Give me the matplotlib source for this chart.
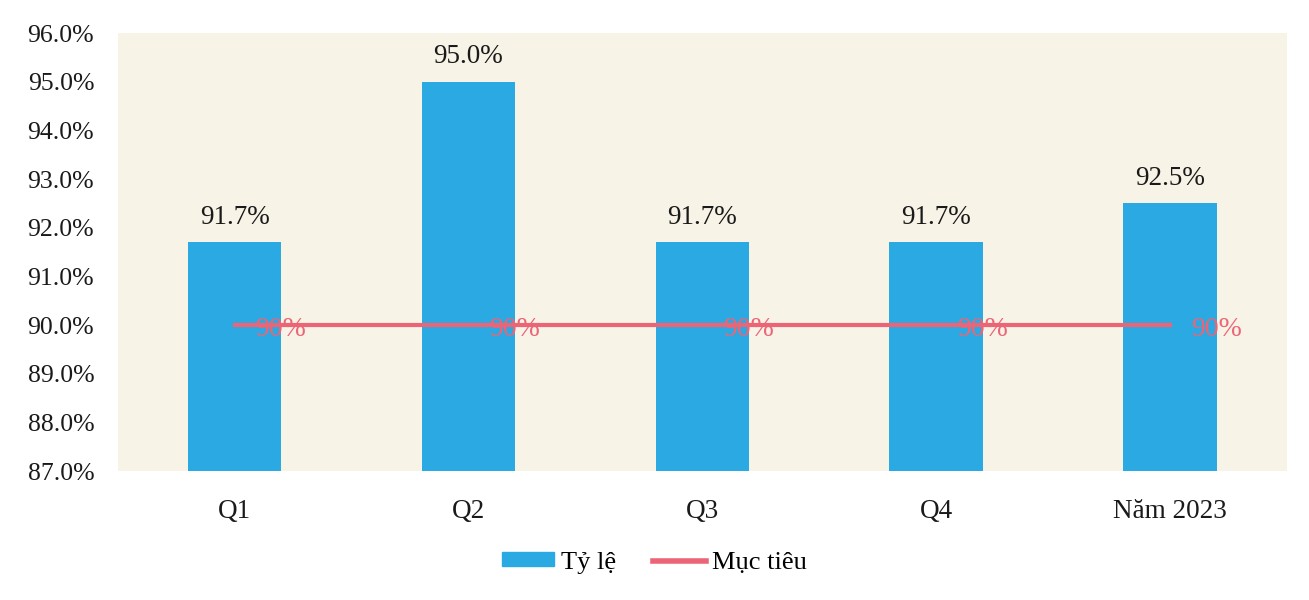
import matplotlib.pyplot as plt
from matplotlib.patches import Patch
from matplotlib.lines import Line2D
from matplotlib.ticker import FuncFormatter

categories = ['Q1', 'Q2', 'Q3', 'Q4', 'Năm 2023']
rate = [91.7, 95.0, 91.7, 91.7, 92.5]
target = [90, 90, 90, 90, 90]

bar_color = '#2aa9e3'
line_color = '#ec6576'

plt.rcParams['font.family'] = ['Liberation Serif', 'DejaVu Serif']

fig = plt.figure(figsize=(13.09, 6), dpi=100)
ax = fig.add_axes([0.090, 0.215, 0.893, 0.730])
ax.set_facecolor('#f8f3e7')

x = range(len(categories))
ax.bar(x, rate, width=0.4, color=bar_color, zorder=2)
ax.plot(x, target, color=line_color, linewidth=3, zorder=3)

# value labels above bars
for i, v in enumerate(rate):
    ax.annotate(f'{v:.1f}%', (i, v), xytext=(0, 9), textcoords='offset points',
                ha='center', va='bottom', fontsize=19.5, color='#1a1a1a')

# target labels next to each point of the line
for i, t in enumerate(target):
    ax.annotate(f'{t}%', (i, t), xytext=(15, -3), textcoords='offset points',
                ha='left', va='center', fontsize=20, color=line_color, zorder=4)

ax.set_xlim(-0.5, len(categories) - 0.5)
ax.set_ylim(87, 96)
ax.set_yticks(range(87, 97))
ax.yaxis.set_major_formatter(FuncFormatter(lambda v, _: f'{v:.1f}%'))
ax.set_xticks(list(x))
ax.set_xticklabels(categories)
ax.tick_params(axis='both', length=0, labelsize=19.5, colors='#1a1a1a')
ax.tick_params(axis='x', pad=20)
ax.tick_params(axis='y', labelsize=18.5, pad=17)
for s in ax.spines.values():
    s.set_visible(False)

handles = [Patch(color=bar_color, label='Tỷ lệ'),
           Line2D([0], [0], color=line_color, linewidth=4, label='Mục tiêu')]
fig.legend(handles=handles, loc='center', bbox_to_anchor=(0.5, 0.062), ncol=2,
           frameon=False, fontsize=19, handlelength=2.0, handleheight=0.45,
           handletextpad=0.25, columnspacing=1.4)

fig.savefig('out.png', dpi=100)
